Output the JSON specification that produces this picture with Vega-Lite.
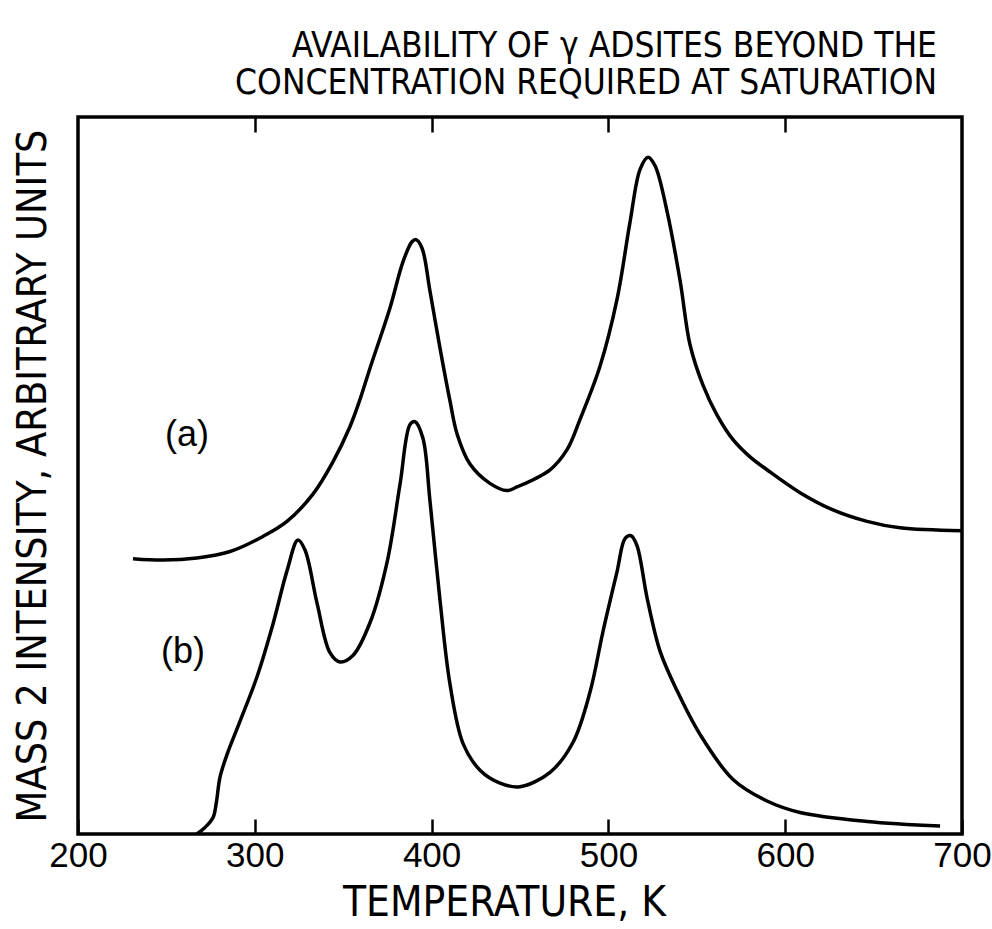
{
  "$schema": "https://vega.github.io/schema/vega-lite/v6.json",
  "width": 884,
  "height": 717,
  "autosize": "none",
  "padding": {"left": 78, "top": 117, "right": 30, "bottom": 95},
  "title": {
    "text": ["AVAILABILITY OF γ ADSITES BEYOND THE", "CONCENTRATION REQUIRED AT SATURATION"],
    "anchor": "end",
    "frame": "group",
    "dx": -25,
    "offset": 15,
    "font": "Liberation Sans Narrow, DejaVu Sans Condensed, sans-serif",
    "fontSize": 35,
    "fontWeight": "normal",
    "lineHeight": 37,
    "color": "black"
  },
  "config": {
    "view": {"stroke": "black", "strokeWidth": 3.5},
    "font": "Liberation Sans"
  },
  "datasets": {
    "curves": [
      {"series": "a", "T": 231.1, "I": 38.4},
      {"series": "a", "T": 248.1, "I": 38.2},
      {"series": "a", "T": 267.3, "I": 38.5},
      {"series": "a", "T": 286.0, "I": 39.4},
      {"series": "a", "T": 304.6, "I": 41.5},
      {"series": "a", "T": 318.2, "I": 43.6},
      {"series": "a", "T": 332.9, "I": 47.4},
      {"series": "a", "T": 344.2, "I": 51.9},
      {"series": "a", "T": 353.8, "I": 56.8},
      {"series": "a", "T": 359.5, "I": 60.6},
      {"series": "a", "T": 365.2, "I": 65.0},
      {"series": "a", "T": 376.5, "I": 73.4},
      {"series": "a", "T": 383.8, "I": 79.8},
      {"series": "a", "T": 388.9, "I": 82.6},
      {"series": "a", "T": 391.2, "I": 82.9},
      {"series": "a", "T": 394.6, "I": 81.7},
      {"series": "a", "T": 399.1, "I": 75.7},
      {"series": "a", "T": 404.8, "I": 67.7},
      {"series": "a", "T": 410.4, "I": 60.4},
      {"series": "a", "T": 414.4, "I": 55.8},
      {"series": "a", "T": 421.7, "I": 51.6},
      {"series": "a", "T": 433.0, "I": 48.9},
      {"series": "a", "T": 442.6, "I": 47.9},
      {"series": "a", "T": 448.3, "I": 48.4},
      {"series": "a", "T": 467.0, "I": 50.8},
      {"series": "a", "T": 476.6, "I": 53.6},
      {"series": "a", "T": 483.9, "I": 57.8},
      {"series": "a", "T": 495.2, "I": 65.2},
      {"series": "a", "T": 504.9, "I": 74.6},
      {"series": "a", "T": 512.2, "I": 85.3},
      {"series": "a", "T": 517.9, "I": 92.7},
      {"series": "a", "T": 522.4, "I": 94.4},
      {"series": "a", "T": 526.4, "I": 93.2},
      {"series": "a", "T": 533.2, "I": 86.8},
      {"series": "a", "T": 540.6, "I": 77.1},
      {"series": "a", "T": 546.2, "I": 68.2},
      {"series": "a", "T": 553.5, "I": 62.6},
      {"series": "a", "T": 561.3, "I": 58.5},
      {"series": "a", "T": 570.5, "I": 55.0},
      {"series": "a", "T": 580.1, "I": 52.6},
      {"series": "a", "T": 589.7, "I": 50.8},
      {"series": "a", "T": 608.4, "I": 47.6},
      {"series": "a", "T": 627.0, "I": 45.2},
      {"series": "a", "T": 646.3, "I": 43.6},
      {"series": "a", "T": 664.9, "I": 42.7},
      {"series": "a", "T": 700.0, "I": 42.3},
      {"series": "b", "T": 267.3, "I": 0.0},
      {"series": "b", "T": 271.8, "I": 0.9},
      {"series": "b", "T": 276.4, "I": 2.3},
      {"series": "b", "T": 278.2, "I": 4.3},
      {"series": "b", "T": 280.3, "I": 7.9},
      {"series": "b", "T": 284.3, "I": 11.1},
      {"series": "b", "T": 291.6, "I": 15.7},
      {"series": "b", "T": 301.2, "I": 21.9},
      {"series": "b", "T": 310.3, "I": 29.3},
      {"series": "b", "T": 318.2, "I": 36.7},
      {"series": "b", "T": 324.4, "I": 41.0},
      {"series": "b", "T": 328.4, "I": 39.6},
      {"series": "b", "T": 335.2, "I": 32.2},
      {"series": "b", "T": 342.5, "I": 25.3},
      {"series": "b", "T": 348.2, "I": 24.0},
      {"series": "b", "T": 355.5, "I": 24.9},
      {"series": "b", "T": 365.2, "I": 29.5},
      {"series": "b", "T": 374.8, "I": 37.9},
      {"series": "b", "T": 382.1, "I": 48.7},
      {"series": "b", "T": 387.8, "I": 57.1},
      {"series": "b", "T": 390.6, "I": 57.5},
      {"series": "b", "T": 395.1, "I": 55.2},
      {"series": "b", "T": 399.1, "I": 46.4},
      {"series": "b", "T": 404.8, "I": 32.5},
      {"series": "b", "T": 410.4, "I": 20.9},
      {"series": "b", "T": 417.8, "I": 12.6},
      {"series": "b", "T": 427.4, "I": 8.9},
      {"series": "b", "T": 438.7, "I": 7.1},
      {"series": "b", "T": 450.0, "I": 6.6},
      {"series": "b", "T": 467.0, "I": 8.6},
      {"series": "b", "T": 480.0, "I": 12.8},
      {"series": "b", "T": 489.6, "I": 19.8},
      {"series": "b", "T": 496.9, "I": 28.2},
      {"series": "b", "T": 504.9, "I": 36.6},
      {"series": "b", "T": 509.4, "I": 41.2},
      {"series": "b", "T": 512.8, "I": 41.6},
      {"series": "b", "T": 516.2, "I": 40.2},
      {"series": "b", "T": 521.9, "I": 32.9},
      {"series": "b", "T": 529.2, "I": 25.5},
      {"series": "b", "T": 538.8, "I": 20.0},
      {"series": "b", "T": 551.8, "I": 13.9},
      {"series": "b", "T": 570.5, "I": 7.6},
      {"series": "b", "T": 589.7, "I": 4.6},
      {"series": "b", "T": 608.4, "I": 3.0},
      {"series": "b", "T": 646.3, "I": 1.75},
      {"series": "b", "T": 687.6, "I": 1.1}
    ],
    "labels": [
      {"T": 261.7, "I": 55.6, "label": "(a)"},
      {"T": 259.4, "I": 25.4, "label": "(b)"}
    ]
  },
  "layer": [
    {
      "data": {"name": "curves"},
      "mark": {"type": "line", "color": "black", "strokeWidth": 3.5, "interpolate": "catmull-rom"},
      "encoding": {
        "x": {
          "field": "T", "type": "quantitative",
          "scale": {"domain": [200, 700], "nice": false, "zero": false},
          "axis": {
            "orient": "bottom",
            "values": [200, 300, 400, 500, 600, 700],
            "domain": false,
            "grid": false,
            "tickSize": -15,
            "tickWidth": 2.5,
            "tickColor": "black",
            "labelFont": "Liberation Sans",
            "labelFontSize": 35,
            "labelColor": "black",
            "labelPadding": 19,
            "labelFlush": false,
            "title": "TEMPERATURE,  K",
            "titleFont": "Liberation Sans Narrow, DejaVu Sans Condensed, sans-serif",
            "titleFontSize": 42,
            "titleFontWeight": "normal",
            "titleColor": "black",
            "titlePadding": 9,
            "titleX": 426
          }
        },
        "y": {
          "field": "I", "type": "quantitative",
          "scale": {"domain": [0, 100], "nice": false},
          "axis": {
            "domain": false, "ticks": false, "labels": false, "grid": false,
            "title": "MASS 2 INTENSITY, ARBITRARY UNITS",
            "titleFont": "Liberation Sans Narrow, DejaVu Sans Condensed, sans-serif",
            "titleFontSize": 41,
            "titleFontWeight": "normal",
            "titleColor": "black",
            "titlePadding": 24
          }
        },
        "detail": {"field": "series"}
      }
    },
    {
      "data": {"name": "labels"},
      "mark": {"type": "text", "font": "Liberation Sans", "fontSize": 36, "color": "black"},
      "encoding": {
        "x": {
          "field": "T", "type": "quantitative",
          "axis": {
            "orient": "top",
            "values": [300, 400, 500, 600],
            "domain": false,
            "grid": false,
            "labels": false,
            "tickSize": -15,
            "tickWidth": 2.5,
            "tickColor": "black",
            "title": null
          }
        },
        "y": {"field": "I", "type": "quantitative"},
        "text": {"field": "label"}
      }
    }
  ],
  "resolve": {"axis": {"x": "independent"}}
}
